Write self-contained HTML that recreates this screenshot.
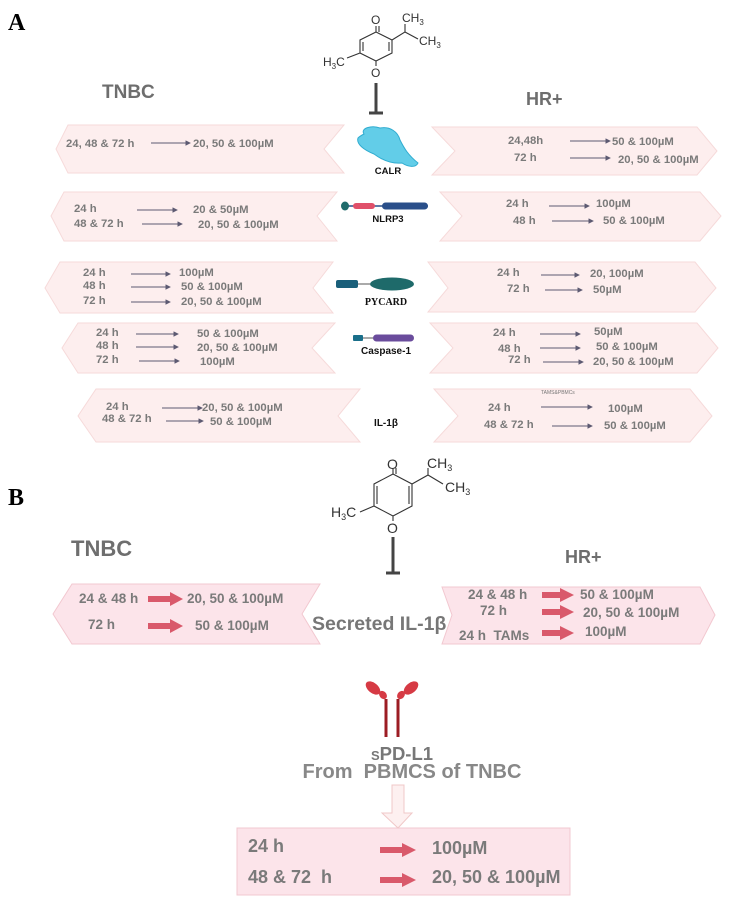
<!DOCTYPE html>
<html><head><meta charset="utf-8"><style>
html,body{margin:0;padding:0;background:#fff;}
svg{display:block;font-family:"Liberation Sans",sans-serif;}
.t{font-size:11.3px;font-weight:bold;fill:#7a7a7a;}
.tb{font-size:13.5px;font-weight:bold;fill:#7a7a7a;}
.tc{font-size:18px;font-weight:bold;fill:#7a7a7a;}
.sa{fill:#fdeeee;stroke:#f6dada;stroke-width:1;}
.sb{fill:#fce4ea;stroke:#f2c8d0;stroke-width:1;}
.ar{stroke:#5d5a72;stroke-width:1.1;}
.mol{stroke:#333;stroke-width:1.1;fill:none;}
.mt{font-size:12px;fill:#333;}
</style></head><body>
<svg width="743" height="905" viewBox="0 0 743 905">
<defs>
<marker id="ah" viewBox="0 0 6 6" refX="5" refY="3" markerWidth="5" markerHeight="5" orient="auto"><path d="M0,0L6,3L0,6z" fill="#5d5a72"/></marker>
</defs>
<text x="8" y="30" font-family="Liberation Serif" font-weight="bold" font-size="24" fill="#000">A</text>
<g>
<path class="mol" d="M376,32 L360,40 L360,53 L376,61 L392,53 L392,40 Z M363,42 L363,51 M389,42 L389,51 M376,32 L376,26 M379,32 L379,26 M376,61 L376,66 M360,53 L347,58 M392,40 L405,32 L405,24 M405,32 L418,39"/>
<text class="mt" x="371" y="24">O</text><text class="mt" x="371" y="77">O</text>
<text class="mt" x="402" y="22">CH<tspan font-size="8" dy="3">3</tspan></text>
<text class="mt" x="419" y="45">CH<tspan font-size="8" dy="3">3</tspan></text>
<text class="mt" x="323" y="66">H<tspan font-size="8" dy="3">3</tspan><tspan dy="-3">C</tspan></text>
<path d="M376,83 L376,113 M369,113 L383,113" stroke="#444" stroke-width="3"/>
</g>
<text x="102" y="98" font-size="19" font-weight="bold" fill="#6e6e6e">TNBC</text>
<text x="526" y="105" font-size="18" font-weight="bold" fill="#6e6e6e">HR+</text>

<polygon class="sa" points="68,125 344,125 324,149 344,173 68,173 56,149"/>
<text class="t" x="66" y="147">24, 48 &amp; 72 h</text><line class="ar" x1="151" y1="143" x2="190" y2="143" marker-end="url(#ah)"/><text class="t" x="193" y="147">20, 50 &amp; 100µM</text>
<polygon class="sa" points="432,127 697,127 717,151 697,175 432,175 455,151"/>
<text class="t" x="508" y="144">24,48h</text><line class="ar" x1="570" y1="141" x2="610" y2="141" marker-end="url(#ah)"/><text class="t" x="612" y="145">50 &amp; 100µM</text>
<text class="t" x="514" y="161">72 h</text><line class="ar" x1="570" y1="158" x2="610" y2="158" marker-end="url(#ah)"/><text class="t" x="618" y="163">20, 50 &amp; 100µM</text>
<path d="M364,134 C360,128 372,125 380,128 C390,126 398,132 400,140 C404,148 408,155 418,163 C416,168 408,167 402,163 C392,164 382,160 374,154 C364,150 356,144 358,138 C360,136 362,135 364,134Z" fill="#62cde8" stroke="#30acd0" stroke-width="1"/>
<text x="388" y="174" font-size="9.5" font-weight="bold" fill="#111" text-anchor="middle">CALR</text>

<polygon class="sa" points="64,192 337,192 317,216 337,241 64,241 51,216"/>
<text class="t" x="74" y="212">24 h</text><line class="ar" x1="137" y1="210" x2="177" y2="210" marker-end="url(#ah)"/><text class="t" x="193" y="213">20 &amp; 50µM</text>
<text class="t" x="74" y="227">48 &amp; 72 h</text><line class="ar" x1="142" y1="224" x2="182" y2="224" marker-end="url(#ah)"/><text class="t" x="198" y="228">20, 50 &amp; 100µM</text>
<polygon class="sa" points="440,192 700,192 721,216 700,241 440,241 462,216"/>
<text class="t" x="506" y="207">24 h</text><line class="ar" x1="549" y1="206" x2="589" y2="206" marker-end="url(#ah)"/><text class="t" x="596" y="207">100µM</text>
<text class="t" x="513" y="224">48 h</text><line class="ar" x1="552" y1="221" x2="593" y2="221" marker-end="url(#ah)"/><text class="t" x="603" y="224">50 &amp; 100µM</text>
<g>
<line x1="345" y1="206" x2="428" y2="206" stroke="#2a4f8a" stroke-width="1.5"/>
<ellipse cx="345" cy="206" rx="4" ry="4.5" fill="#1f6b6b"/>
<rect x="353" y="203" width="22" height="6" rx="3" fill="#e0506a"/>
<rect x="382" y="202.5" width="46" height="7" rx="3.5" fill="#2a4f8a"/>
</g>
<text x="388" y="222" font-size="9.5" font-weight="bold" fill="#111" text-anchor="middle">NLRP3</text>

<polygon class="sa" points="60,262 333,262 313,288 333,313 60,313 45,288"/>
<text class="t" x="83" y="276">24 h</text><line class="ar" x1="131" y1="274" x2="170" y2="274" marker-end="url(#ah)"/><text class="t" x="179" y="276">100µM</text>
<text class="t" x="83" y="289">48 h</text><line class="ar" x1="131" y1="287" x2="170" y2="287" marker-end="url(#ah)"/><text class="t" x="181" y="290">50 &amp; 100µM</text>
<text class="t" x="83" y="304">72 h</text><line class="ar" x1="131" y1="302" x2="170" y2="302" marker-end="url(#ah)"/><text class="t" x="181" y="305">20, 50 &amp; 100µM</text>
<polygon class="sa" points="428,262 695,262 716,288 695,312 428,312 448,288"/>
<text class="t" x="497" y="276">24 h</text><line class="ar" x1="541" y1="275" x2="579" y2="275" marker-end="url(#ah)"/><text class="t" x="590" y="277">20, 100µM</text>
<text class="t" x="507" y="292">72 h</text><line class="ar" x1="545" y1="290" x2="582" y2="290" marker-end="url(#ah)"/><text class="t" x="593" y="293">50µM</text>
<g>
<line x1="358" y1="284" x2="372" y2="284" stroke="#555" stroke-width="1"/>
<rect x="336" y="280" width="22" height="8" rx="2" fill="#1a5f7a"/>
<ellipse cx="392" cy="284" rx="22" ry="6.5" fill="#1e6a6a"/>
</g>
<text x="386" y="305" font-size="10" font-weight="bold" fill="#111" text-anchor="middle" font-family="Liberation Serif">PYCARD</text>

<polygon class="sa" points="78,323 335,323 312,348 335,373 78,373 62,348"/>
<text class="t" x="96" y="336">24 h</text><line class="ar" x1="136" y1="334" x2="178" y2="334" marker-end="url(#ah)"/><text class="t" x="197" y="337">50 &amp; 100µM</text>
<text class="t" x="96" y="349">48 h</text><line class="ar" x1="136" y1="347" x2="178" y2="347" marker-end="url(#ah)"/><text class="t" x="197" y="351">20, 50 &amp; 100µM</text>
<text class="t" x="96" y="363">72 h</text><line class="ar" x1="139" y1="361" x2="179" y2="361" marker-end="url(#ah)"/><text class="t" x="200" y="365">100µM</text>
<polygon class="sa" points="430,323 697,323 718,348 697,373 430,373 453,348"/>
<text class="t" x="493" y="336">24 h</text><line class="ar" x1="540" y1="334" x2="580" y2="334" marker-end="url(#ah)"/><text class="t" x="594" y="335">50µM</text>
<text class="t" x="498" y="352">48 h</text><line class="ar" x1="540" y1="348" x2="580" y2="348" marker-end="url(#ah)"/><text class="t" x="596" y="350">50 &amp; 100µM</text>
<text class="t" x="508" y="363">72 h</text><line class="ar" x1="543" y1="362" x2="583" y2="362" marker-end="url(#ah)"/><text class="t" x="593" y="365">20, 50 &amp; 100µM</text>
<g>
<line x1="363" y1="338" x2="375" y2="338" stroke="#555" stroke-width="1"/>
<rect x="353" y="335" width="10" height="6" rx="1" fill="#1a6f8a"/>
<rect x="373" y="334.5" width="41" height="7" rx="3.5" fill="#6a4c9c"/>
</g>
<text x="386" y="354" font-size="10" font-weight="bold" fill="#111" text-anchor="middle">Caspase-1</text>

<polygon class="sa" points="96,389 360,389 338,416 360,442 96,442 78,416"/>
<text class="t" x="106" y="410">24 h</text><line class="ar" x1="162" y1="408" x2="202" y2="408" marker-end="url(#ah)"/><text class="t" x="202" y="411">20, 50 &amp; 100µM</text>
<text class="t" x="102" y="422">48 &amp; 72 h</text><line class="ar" x1="166" y1="421" x2="203" y2="421" marker-end="url(#ah)"/><text class="t" x="210" y="425">50 &amp; 100µM</text>
<polygon class="sa" points="434,389 690,389 712,416 690,442 434,442 458,416"/>
<text class="t" x="488" y="411">24 h</text><text x="541" y="394" font-size="5" fill="#777">TAMS&amp;PBMCs</text><line class="ar" x1="541" y1="407" x2="592" y2="407" marker-end="url(#ah)"/><text class="t" x="608" y="412">100µM</text>
<text class="t" x="484" y="428">48 &amp; 72 h</text><line class="ar" x1="552" y1="426" x2="592" y2="426" marker-end="url(#ah)"/><text class="t" x="604" y="429">50 &amp; 100µM</text>
<text x="386" y="426" font-size="10" font-weight="bold" fill="#111" text-anchor="middle">IL-1β</text>

<text x="8" y="505" font-family="Liberation Serif" font-weight="bold" font-size="24" fill="#000">B</text>
<g>
<path class="mol" d="M393,474 L374,484 L374,506 L393,516 L412,506 L412,484 Z M377,486 L377,504 M409,486 L409,504 M393,474 L393,468 M396,474 L396,468 M393,516 L393,521 M374,506 L360,512 M412,484 L428,475 L428,468 M428,475 L443,484"/>
<text x="387" y="469" font-size="14" fill="#333">O</text><text x="387" y="533" font-size="14" fill="#333">O</text>
<text x="427" y="468" font-size="14" fill="#333">CH<tspan font-size="9" dy="3">3</tspan></text>
<text x="445" y="492" font-size="14" fill="#333">CH<tspan font-size="9" dy="3">3</tspan></text>
<text x="331" y="517" font-size="14" fill="#333">H<tspan font-size="9" dy="3">3</tspan><tspan dy="-3">C</tspan></text>
<path d="M393,537 L393,573 M386,573 L400,573" stroke="#444" stroke-width="3"/>
</g>
<text x="71" y="556" font-size="22" font-weight="bold" fill="#6e6e6e">TNBC</text>
<text x="565" y="563" font-size="18" font-weight="bold" fill="#6e6e6e">HR+</text>

<polygon class="sb" points="72,584 320,584 302,614 320,644 72,644 53,614"/>
<polygon class="sb" points="442,587 700,587 715,615 700,644 442,644 452,615"/>
<rect x="237" y="828" width="333" height="67" fill="#fce4ea" stroke="#f2c8d0"/>
<g fill="#d9596b">
<path d="M148,596 L170,596 L170,592 L183,599 L170,606 L170,602 L148,602Z"/>
<path d="M148,623 L170,623 L170,619 L183,626 L170,633 L170,629 L148,629Z"/>
<path d="M542,592 L560,592 L560,588 L574,595 L560,602 L560,598 L542,598Z"/>
<path d="M542,609 L560,609 L560,605 L574,612 L560,619 L560,615 L542,615Z"/>
<path d="M542,630 L560,630 L560,626 L574,633 L560,640 L560,636 L542,636Z"/>
<path d="M380,847 L402,847 L402,843 L416,850 L402,857 L402,853 L380,853Z"/>
<path d="M380,877 L402,877 L402,873 L416,880 L402,887 L402,883 L380,883Z"/>
</g>
<text class="tb" x="79" y="603">24 &amp; 48 h</text><text class="tb" x="187" y="603">20, 50 &amp; 100µM</text>
<text class="tb" x="88" y="629">72 h</text><text class="tb" x="195" y="630">50 &amp; 100µM</text>
<text x="312" y="630" font-size="19.5" font-weight="bold" fill="#777">Secreted IL-1β</text>
<text class="tb" x="468" y="599">24 &amp; 48 h</text><text class="tb" x="580" y="599">50 &amp; 100µM</text>
<text class="tb" x="480" y="615">72 h</text><text class="tb" x="583" y="617">20, 50 &amp; 100µM</text>
<text class="tb" x="459" y="640">24 h&#160; TAMs</text><text class="tb" x="585" y="636">100µM</text>

<g>
<line x1="386" y1="699" x2="386" y2="737" stroke="#9c1c24" stroke-width="3"/>
<line x1="398" y1="699" x2="398" y2="737" stroke="#9c1c24" stroke-width="3"/>
<ellipse cx="373" cy="688" rx="5" ry="8.5" transform="rotate(-50 373 688)" fill="#d63a44"/>
<ellipse cx="411" cy="688" rx="5" ry="8.5" transform="rotate(50 411 688)" fill="#d63a44"/>
<ellipse cx="383" cy="695" rx="3.5" ry="4.5" transform="rotate(-40 383 695)" fill="#d63a44"/>
<ellipse cx="401" cy="695" rx="3.5" ry="4.5" transform="rotate(40 401 695)" fill="#d63a44"/>
</g>
<text x="402" y="760" font-size="18.5" font-weight="bold" fill="#777" text-anchor="middle"><tspan font-size="13">S</tspan>PD-L1</text>
<text x="412" y="778" font-size="20" font-weight="bold" fill="#888" text-anchor="middle">From&#160; PBMCS of TNBC</text>
<polygon points="392,785 404,785 404,813 412,813 398,828 382,813 392,813" fill="#fdf0f0" stroke="#f0c8c8" stroke-width="1"/>
<text class="tc" x="248" y="852">24 h</text><text class="tc" x="432" y="854">100µM</text>
<text class="tc" x="248" y="883">48 &amp; 72&#160; h</text><text class="tc" x="432" y="883">20, 50 &amp; 100µM</text>
</svg>
</body></html>
